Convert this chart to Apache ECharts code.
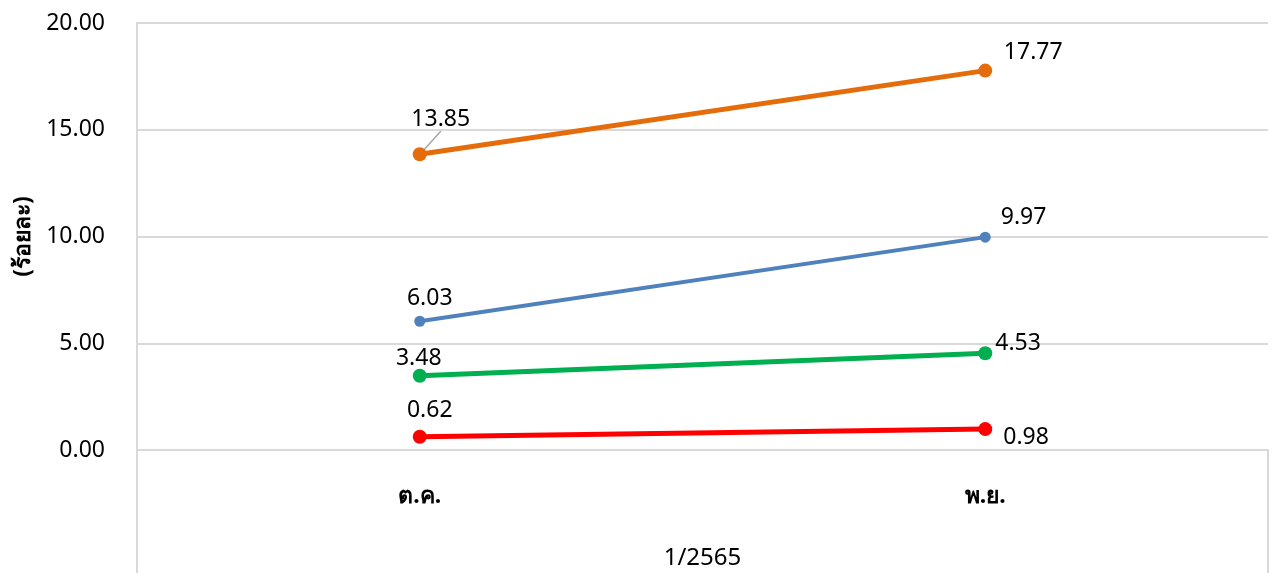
<!DOCTYPE html>
<html>
<head>
<meta charset="utf-8">
<script src="https://cdn.jsdelivr.net/npm/echarts@6/dist/echarts.min.js"></script>
<style>
html,body{margin:0;padding:0;background:#fff;}
#c{width:1273px;height:573px;}
</style>
</head>
<body>
<div id="c"></div>
<script>
const categories = ['ต.ค.', 'พ.ย.'];
const groupLabel = ['1/2565'];
const seriesOrange = [13.85, 17.77];
const seriesBlue = [6.03, 9.97];
const seriesGreen = [3.48, 4.53];
const seriesRed = [0.62, 0.98];
const yTicks = { min: 0, max: 20, interval: 5 };

const FONT = 'Tahoma, "Noto Sans", "DejaVu Sans", sans-serif';
const labelBase = { show: true, color: '#000', fontSize: 23, fontFamily: FONT, formatter: p => p.value.toFixed(2) };

function mk(name, data, color, width, sym, labels, extra) {
  return Object.assign({
    name, type: 'line', data: data.map((v, i) => ({ value: v, label: Object.assign({}, labelBase, labels[i]) })),
    symbol: 'circle', symbolSize: sym,
    lineStyle: { color, width }, itemStyle: { color },
    label: labelBase, z: 3
  }, extra || {});
}

const chart = echarts.init(document.getElementById('c'));
const orange = mk('ส้ม', seriesOrange, '#E46C0A', 5, 14, [
  { position: 'top', offset: [0, 0] },
  { position: 'top', offset: [0, 0] }
], {
  labelLine: { show: true, lineStyle: { color: '#a6a6a6', width: 1.5 } },
  labelLayout: p => p.dataIndex === 0 ? { dx: 21, dy: -11 } : { dx: 48, dy: 5 }
});
orange.data[1].labelLine = { show: false };

chart.setOption({
  animation: false,
  grid: { left: 137, right: 5, top: 23, bottom: 123 },
  xAxis: [
    {
      type: 'category', data: categories, position: 'bottom',
      axisLine: { show: true, lineStyle: { color: '#d9d9d9', width: 2 } },
      axisTick: { show: false },
      axisLabel: { color: '#000', fontSize: 23, fontWeight: 'bold', fontFamily: FONT, margin: 35 }
    },
    {
      type: 'category', data: groupLabel, position: 'bottom', offset: 0,
      axisLine: { show: false },
      axisTick: { show: true, length: 123, lineStyle: { color: '#d9d9d9', width: 2 } },
      axisLabel: { color: '#000', fontSize: 24, fontFamily: FONT, margin: 96 }
    }
  ],
  yAxis: {
    type: 'value', min: yTicks.min, max: yTicks.max, interval: yTicks.interval,
    name: '(ร้อยละ)', nameLocation: 'middle', nameGap: 100, nameRotate: 90,
    nameTextStyle: { color: '#000', fontSize: 23, fontWeight: 'bold', fontFamily: FONT },
    axisLine: { show: true, lineStyle: { color: '#d9d9d9', width: 2 } },
    axisTick: { show: false },
    splitLine: { lineStyle: { color: '#d9d9d9', width: 2 } },
    axisLabel: { color: '#000', fontSize: 23, fontFamily: FONT, margin: 32, formatter: v => v.toFixed(2) }
  },
  series: [
    orange,
    mk('ฟ้า', seriesBlue, '#4F81BD', 4, 11, [
      { position: 'top', offset: [10, -1] },
      { position: 'right', offset: [5, -20] }
    ]),
    mk('เขียว', seriesGreen, '#00B050', 5, 14, [
      { position: 'top', offset: [-1, 6] },
      { position: 'right', offset: [-2, -10] }
    ]),
    mk('แดง', seriesRed, '#FF0000', 5, 14, [
      { position: 'top', offset: [10, -3] },
      { position: 'right', offset: [6, 8] }
    ])
  ]
});
</script>
</body>
</html>
